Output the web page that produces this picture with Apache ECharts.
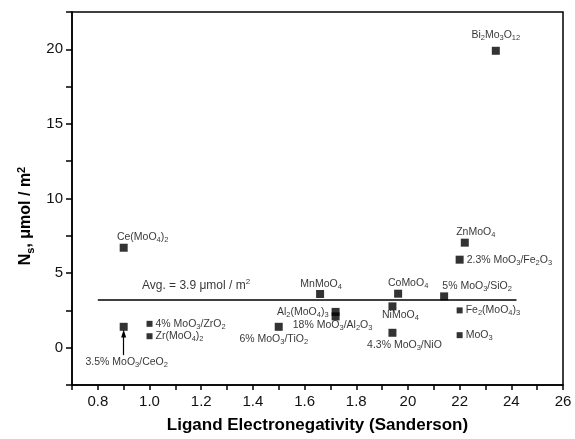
<!DOCTYPE html>
<html>
<head>
<meta charset="utf-8">
<script src="https://cdn.jsdelivr.net/npm/echarts@6/dist/echarts.min.js"></script>
<style>
  html, body { margin: 0; padding: 0; background: #fff; }
  #chart { width: 575px; height: 439px; }
</style>
</head>
<body>
<div id="chart"></div>
<script>
  // compounds: label text (rich markup), x = ligand electronegativity, y = Ns
  const names = [
    'Bi{s|2}Mo{s|3}O{s|12}',
    'Ce(MoO{s|4}){s|2}',
    '3.5% MoO{s|3}/CeO{s|2}',
    '4% MoO{s|3}/ZrO{s|2}',
    'Zr(MoO{s|4}){s|2}',
    '6% MoO{s|3}/TiO{s|2}',
    'Al{s|2}(MoO{s|4}){s|3}',
    '18% MoO{s|3}/Al{s|2}O{s|3}',
    'MnMoO{s|4}',
    'CoMoO{s|4}',
    'NiMoO{s|4}',
    '4.3% MoO{s|3}/NiO',
    '5% MoO{s|3}/SiO{s|2}',
    'ZnMoO{s|4}',
    '2.3% MoO{s|3}/Fe{s|2}O{s|3}',
    'Fe{s|2}(MoO{s|4}){s|3}',
    'MoO{s|3}'
  ];
  const xValues = [2.34, 0.9, 0.9, 1.0, 1.0, 1.5, 1.72, 1.72, 1.66, 1.962, 1.94, 1.94, 2.14, 2.22, 2.2, 2.2, 2.2];
  const yValues = [19.9, 6.7, 1.4, 1.6, 0.77, 1.4, 2.4, 2.1, 3.6, 3.62, 2.77, 1.0, 3.44, 7.04, 5.9, 2.5, 0.84];

  const avgX = [0.8, 2.42];
  const avgY = [3.2, 3.2];
  const avgText = 'Avg. = 3.9 μmol / m{p|2}';
  const avgLabelAt = [1.18, 4.15];

  const arrowX = [0.9, 0.9];
  const arrowY = [-0.5, 0.95];

  const xTickValues = [0.8, 1.0, 1.2, 1.4, 1.6, 1.8, 2.0, 2.2, 2.4, 2.6];
  const xTickLabels = ['0.8', '1.0', '1.2', '1.4', '1.6', '1.8', '20', '22', '24', '26'];
  const yTickValues = [0, 5, 10, 15, 20];
  const yTickLabels = ['0', '5', '10', '15', '20'];

  const font = 'Liberation Sans, Arial, sans-serif';

  // where each label sits relative to its square
  const labelPlace = [
    { position: 'inside', offset: [0, -16] },
    { position: 'inside', offset: [19, -11] },
    { position: 'inside', offset: [3, 35] },
    { position: 'right', distance: 3 },
    { position: 'right', distance: 3 },
    { position: 'inside', offset: [-5, 12] },
    { position: 'left', distance: 3 },
    { position: 'inside', offset: [-3, 9] },
    { position: 'inside', offset: [1, -10] },
    { position: 'inside', offset: [10, -11] },
    { position: 'inside', offset: [8, 9] },
    { position: 'inside', offset: [12, 12] },
    { position: 'inside', offset: [33, -10] },
    { position: 'inside', offset: [11, -11] },
    { position: 'right', distance: 3 },
    { position: 'right', distance: 3 },
    { position: 'right', distance: 3 }
  ];
  const smallOnes = [3, 4, 15, 16];

  const rich = {
    n: { fontSize: 10.5, lineHeight: 14, color: '#000', fontFamily: font },
    s: { fontSize: 7.5, lineHeight: 8, verticalAlign: 'bottom', color: '#000', fontFamily: font },
    p: { fontSize: 8, lineHeight: 8, verticalAlign: 'top', color: '#000', fontFamily: font }
  };

  function toRich(txt) {
    // wrap plain parts in the n style
    return txt.split(/(\{[sp]\|[^}]*\})/).filter(t => t).map(t => t[0] === '{' ? t : '{n|' + t + '}').join('');
  }

  const points = names.map((n, i) => ({
    value: [xValues[i], yValues[i]],
    symbolSize: smallOnes.includes(i) ? 6 : 8,
    label: Object.assign({ show: true, formatter: toRich(n), rich: rich }, labelPlace[i])
  }));

  const chart = echarts.init(document.getElementById('chart'));

  const option = {
    animation: false,
    backgroundColor: '#fff',
    grid: { left: 72, right: 12, top: 12, bottom: 52, show: true, borderColor: '#000', borderWidth: 1.5 },
    xAxis: {
      type: 'value',
      min: 0.7,
      max: 2.6,
      interval: 0.1,
      axisLine: { onZero: false, lineStyle: { color: '#000', width: 1.5 } },
      axisTick: { length: 5, lineStyle: { color: '#000', width: 1.5 } },
      splitLine: { show: false },
      axisLabel: {
        interval: 0,
        margin: 9,
        color: '#111',
        fontSize: 15,
        fontFamily: font,
        formatter: v => {
          const k = xTickValues.findIndex(t => Math.abs(t - v) < 1e-6);
          return k < 0 ? '' : xTickLabels[k];
        }
      },
      name: 'Ligand Electronegativity (Sanderson)',
      nameLocation: 'middle',
      nameGap: 32,
      nameTextStyle: { fontSize: 17, fontWeight: 'bold', color: '#000', fontFamily: font }
    },
    yAxis: {
      type: 'value',
      min: -2.5,
      max: 22.5,
      interval: 2.5,
      axisLine: { onZero: false, lineStyle: { color: '#000', width: 1.5 } },
      axisTick: { length: 6, lineStyle: { color: '#000', width: 1.5 } },
      splitLine: { show: false },
      axisLabel: {
        interval: 0,
        margin: 9,
        color: '#111',
        fontSize: 15,
        fontFamily: font,
        formatter: v => {
          const k = yTickValues.findIndex(t => Math.abs(t - v) < 1e-6);
          return k < 0 ? '' : yTickLabels[k];
        }
      }
    },
    graphic: [{
      type: 'text',
      x: 26,
      y: 216,
      rotation: Math.PI / 2,
      style: {
        text: '{b|N}{bs|s}{b|, μmol / m}{bp|2}',
        align: 'center',
        verticalAlign: 'middle',
        rich: {
          b: { fontSize: 16, fontWeight: 'bold', lineHeight: 20, fill: '#000', fontFamily: font },
          bs: { fontSize: 11, fontWeight: 'bold', lineHeight: 11, verticalAlign: 'bottom', fill: '#000', fontFamily: font },
          bp: { fontSize: 11, fontWeight: 'bold', lineHeight: 11, verticalAlign: 'top', fill: '#000', fontFamily: font }
        }
      }
    }],
    series: [
      {
        type: 'line',
        data: avgX.map((x, i) => [x, avgY[i]]),
        symbol: 'none',
        lineStyle: { color: '#000', width: 1.5 },
        silent: true
      },
      {
        type: 'scatter',
        data: [avgLabelAt],
        symbolSize: 0,
        label: { show: true, position: 'inside', formatter: '{a|' + avgText.replace('{p|2}', '}{p|2}'), rich: {
          a: { fontSize: 12, lineHeight: 16, color: '#000', fontFamily: font },
          p: { fontSize: 8, lineHeight: 8, verticalAlign: 'top', color: '#000', fontFamily: font }
        } }
      },
      {
        // arrow pointing at the 3.5% MoO3/CeO2 square
        type: 'line',
        data: [],
        markLine: {
          silent: true,
          symbol: ['none', 'triangle'],
          symbolSize: [5, 8],
          label: { show: false },
          lineStyle: { color: '#000', width: 1.2, type: 'solid' },
          data: [[{ coord: [arrowX[0], arrowY[0]] }, { coord: [arrowX[1], arrowY[1]] }]]
        }
      },
      {
        type: 'scatter',
        symbol: 'rect',
        itemStyle: { color: '#000' },
        data: points
      }
    ]
  };

  chart.setOption(option);
</script>
</body>
</html>
